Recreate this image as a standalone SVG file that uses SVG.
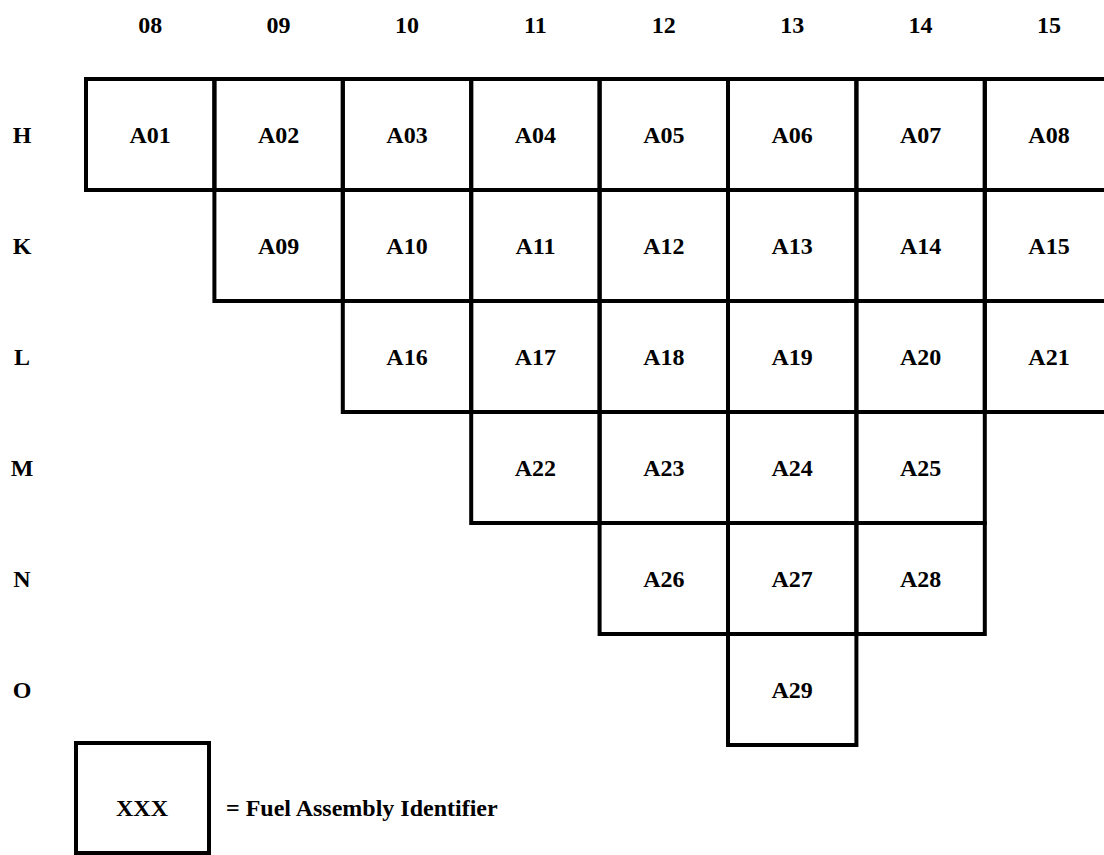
<svg xmlns="http://www.w3.org/2000/svg" width="1104" height="855" viewBox="0 0 1104 855">
<style>
text{font-family:"Liberation Serif","Times New Roman",serif;font-weight:bold;font-size:24px;fill:#000}
.c{text-anchor:middle}
rect.cell{fill:none;stroke:#000;stroke-width:4}
</style>
<rect width="1104" height="855" fill="#fff"/>
<g id="col-headers">
<text class="c" x="150.2" y="33">08</text>
<text class="c" x="278.6" y="33">09</text>
<text class="c" x="407" y="33">10</text>
<text class="c" x="535.4" y="33">11</text>
<text class="c" x="663.8" y="33">12</text>
<text class="c" x="792.2" y="33">13</text>
<text class="c" x="920.6" y="33">14</text>
<text class="c" x="1049" y="33">15</text>
</g>
<g id="row-headers">
<text class="c" x="22" y="143">H</text>
<text class="c" x="22" y="254">K</text>
<text class="c" x="22" y="365">L</text>
<text class="c" x="22" y="476">M</text>
<text class="c" x="22" y="587">N</text>
<text class="c" x="22" y="698">O</text>
</g>
<g id="A01"><rect class="cell" x="86" y="79" width="128.4" height="111"/><text class="c" x="150.2" y="143">A01</text></g>
<g id="A02"><rect class="cell" x="214.4" y="79" width="128.4" height="111"/><text class="c" x="278.6" y="143">A02</text></g>
<g id="A03"><rect class="cell" x="342.8" y="79" width="128.4" height="111"/><text class="c" x="407" y="143">A03</text></g>
<g id="A04"><rect class="cell" x="471.2" y="79" width="128.4" height="111"/><text class="c" x="535.4" y="143">A04</text></g>
<g id="A05"><rect class="cell" x="599.6" y="79" width="128.4" height="111"/><text class="c" x="663.8" y="143">A05</text></g>
<g id="A06"><rect class="cell" x="728" y="79" width="128.4" height="111"/><text class="c" x="792.2" y="143">A06</text></g>
<g id="A07"><rect class="cell" x="856.4" y="79" width="128.4" height="111"/><text class="c" x="920.6" y="143">A07</text></g>
<g id="A08"><rect class="cell" x="984.8" y="79" width="128.4" height="111"/><text class="c" x="1049" y="143">A08</text></g>
<g id="A09"><rect class="cell" x="214.4" y="190" width="128.4" height="111"/><text class="c" x="278.6" y="254">A09</text></g>
<g id="A10"><rect class="cell" x="342.8" y="190" width="128.4" height="111"/><text class="c" x="407" y="254">A10</text></g>
<g id="A11"><rect class="cell" x="471.2" y="190" width="128.4" height="111"/><text class="c" x="535.4" y="254">A11</text></g>
<g id="A12"><rect class="cell" x="599.6" y="190" width="128.4" height="111"/><text class="c" x="663.8" y="254">A12</text></g>
<g id="A13"><rect class="cell" x="728" y="190" width="128.4" height="111"/><text class="c" x="792.2" y="254">A13</text></g>
<g id="A14"><rect class="cell" x="856.4" y="190" width="128.4" height="111"/><text class="c" x="920.6" y="254">A14</text></g>
<g id="A15"><rect class="cell" x="984.8" y="190" width="128.4" height="111"/><text class="c" x="1049" y="254">A15</text></g>
<g id="A16"><rect class="cell" x="342.8" y="301" width="128.4" height="111"/><text class="c" x="407" y="365">A16</text></g>
<g id="A17"><rect class="cell" x="471.2" y="301" width="128.4" height="111"/><text class="c" x="535.4" y="365">A17</text></g>
<g id="A18"><rect class="cell" x="599.6" y="301" width="128.4" height="111"/><text class="c" x="663.8" y="365">A18</text></g>
<g id="A19"><rect class="cell" x="728" y="301" width="128.4" height="111"/><text class="c" x="792.2" y="365">A19</text></g>
<g id="A20"><rect class="cell" x="856.4" y="301" width="128.4" height="111"/><text class="c" x="920.6" y="365">A20</text></g>
<g id="A21"><rect class="cell" x="984.8" y="301" width="128.4" height="111"/><text class="c" x="1049" y="365">A21</text></g>
<g id="A22"><rect class="cell" x="471.2" y="412" width="128.4" height="111"/><text class="c" x="535.4" y="476">A22</text></g>
<g id="A23"><rect class="cell" x="599.6" y="412" width="128.4" height="111"/><text class="c" x="663.8" y="476">A23</text></g>
<g id="A24"><rect class="cell" x="728" y="412" width="128.4" height="111"/><text class="c" x="792.2" y="476">A24</text></g>
<g id="A25"><rect class="cell" x="856.4" y="412" width="128.4" height="111"/><text class="c" x="920.6" y="476">A25</text></g>
<g id="A26"><rect class="cell" x="599.6" y="523" width="128.4" height="111"/><text class="c" x="663.8" y="587">A26</text></g>
<g id="A27"><rect class="cell" x="728" y="523" width="128.4" height="111"/><text class="c" x="792.2" y="587">A27</text></g>
<g id="A28"><rect class="cell" x="856.4" y="523" width="128.4" height="111"/><text class="c" x="920.6" y="587">A28</text></g>
<g id="A29"><rect class="cell" x="728" y="634" width="128.4" height="111"/><text class="c" x="792.2" y="698">A29</text></g>
<g id="legend">
<rect class="cell" x="76" y="743" width="133" height="110"/>
<text class="c" x="142" y="816">XXX</text>
<text x="226" y="816">= Fuel Assembly Identifier</text>
</g>
</svg>
